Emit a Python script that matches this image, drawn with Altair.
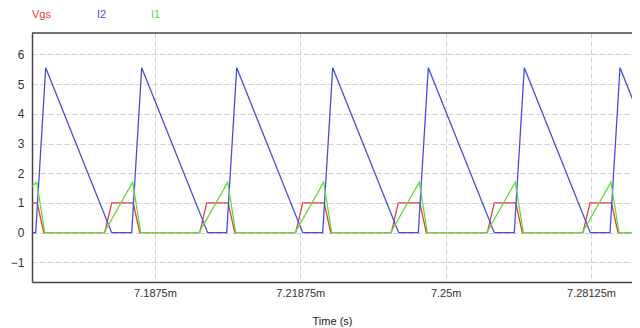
import altair as alt
import pandas as pd

# ---- data (time in ms, values) ----
t_vgs = [7.16105, 7.16217, 7.16357,
         7.17668, 7.17819, 7.18281, 7.18421,
         7.19711, 7.19862, 7.20324, 7.20464,
         7.21775, 7.21926, 7.22388, 7.22528,
         7.23831, 7.23982, 7.24444, 7.24584,
         7.25895, 7.26046, 7.26508, 7.26648,
         7.27953, 7.28104, 7.28566, 7.28706,
         7.29007]
v_vgs = [1, 1, 0,
         0, 1, 1, 0,
         0, 1, 1, 0,
         0, 1, 1, 0,
         0, 1, 1, 0,
         0, 1, 1, 0,
         0, 1, 1, 0,
         0]

t_i2 = [7.16105, 7.16185, 7.16400, 7.17819,
        7.18249, 7.18464, 7.19883,
        7.20292, 7.20507, 7.21926,
        7.22356, 7.22571, 7.23990,
        7.24412, 7.24627, 7.26046,
        7.26476, 7.26691, 7.28110,
        7.28534, 7.28749, 7.30168]
v_i2 = [0, 0, 5.55, 0,
        0, 5.55, 0,
        0, 5.55, 0,
        0, 5.55, 0,
        0, 5.55, 0,
        0, 5.55, 0,
        0, 5.55, 0]

t_i1 = [7.16105, 7.16206, 7.16379,
        7.17655, 7.18270, 7.18443,
        7.19698, 7.20313, 7.20486,
        7.21762, 7.22377, 7.22550,
        7.23818, 7.24433, 7.24606,
        7.25882, 7.26497, 7.26670,
        7.27940, 7.28555, 7.28728,
        7.29007]
v_i1 = [1.56, 1.7, 0,
        0, 1.7, 0,
        0, 1.7, 0,
        0, 1.7, 0,
        0, 1.7, 0,
        0, 1.7, 0,
        0, 1.7, 0,
        0]

series_names = ["Vgs", "I2", "I1"]
series_colors = ["#ee3b3b", "#4a4ae0", "#5fdc3c"]
x_ticks = [7.1875, 7.21875, 7.25, 7.28125]
y_ticks = [-1, 0, 1, 2, 3, 4, 5, 6]
x_domain = [7.16105, 7.29007]
y_domain = [-1.66, 6.72]

rows = []
for name, ts, vs in [("Vgs", t_vgs, v_vgs), ("I2", t_i2, v_i2), ("I1", t_i1, v_i1)]:
    for i, (t, v) in enumerate(zip(ts, vs)):
        rows.append({"series": name, "t": t, "v": v, "i": i})
df = pd.DataFrame(rows)
one = pd.DataFrame({"k": [0]})

FONT = "Liberation Sans"

lines = alt.Chart(df).mark_line(clip=True, strokeWidth=1.3).encode(
    x=alt.X("t:Q", scale=alt.Scale(domain=x_domain, nice=False, zero=False),
            title="Time (s)",
            axis=alt.Axis(values=x_ticks, labelExpr="datum.value + 'm'",
                          grid=True, gridDash=[5, 3], gridColor="#cfcfcf",
                          ticks=False, labelPadding=5, labelFontSize=11,
                          labelColor="#333333", domainColor="#444444",
                          domainWidth=1.5, titleFontSize=11,
                          titleFontWeight="normal", titleColor="#222222",
                          titlePadding=17, labelFont=FONT, titleFont=FONT)),
    y=alt.Y("v:Q", scale=alt.Scale(domain=y_domain, nice=False, zero=False),
            title=None,
            axis=alt.Axis(values=y_ticks, grid=True, gridDash=[5, 3],
                          gridColor="#cfcfcf", ticks=False, labelPadding=8,
                          labelFontSize=12, labelColor="#333333",
                          domainColor="#444444", domainWidth=1.5,
                          labelFont=FONT)),
    color=alt.Color("series:N", scale=alt.Scale(domain=series_names,
                                                range=series_colors),
                    legend=None),
    detail="series:N",
    order="i:Q",
)

top_border = alt.Chart(one).mark_rule(color="#444444", strokeWidth=1.5).encode(
    x=alt.value(0), x2=alt.value(600), y=alt.value(0))

legend_layers = []
for name, color, px in zip(series_names, series_colors, [0, 65, 119]):
    legend_layers.append(
        alt.Chart(one).mark_text(text=name, color=color, align="left",
                                 baseline="middle", fontSize=11, font=FONT)
        .encode(x=alt.value(px), y=alt.value(-18))
    )

chart = alt.layer(
    lines.transform_filter("datum.series == 'Vgs'"),
    lines.transform_filter("datum.series == 'I2'"),
    lines.transform_filter("datum.series == 'I1'"),
    top_border,
    *legend_layers,
).properties(
    width=600, height=249,
    padding={"left": 24, "top": 25, "right": 0, "bottom": 46},
    autosize=alt.AutoSizeParams(type="none"),
    background="white",
).configure_view(stroke=None)

chart.save("out.html", embed_options={"renderer": "svg", "actions": False})
